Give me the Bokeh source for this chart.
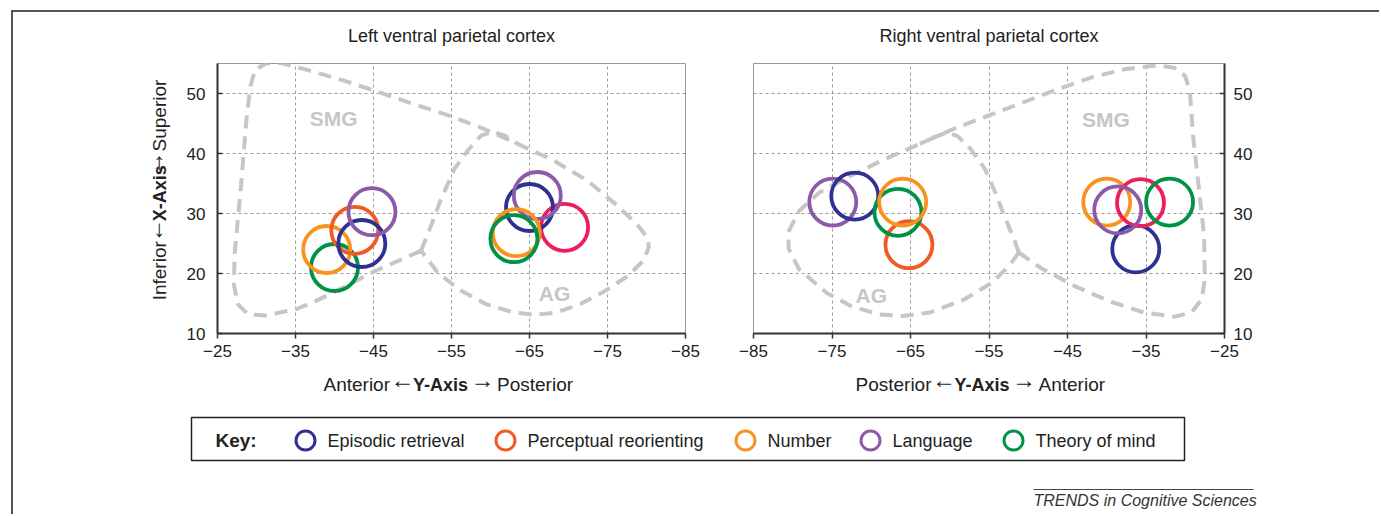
from math import pi
from bokeh.plotting import figure
from bokeh.layouts import column, row
from bokeh.models import Range1d, FixedTicker, ColumnDataSource
from bokeh.embed import file_html
from bokeh.resources import INLINE
from bokeh.core.properties import value

FONT = "Liberation Sans"

# ---------------- data ----------------
PANEL_TITLES = ["Left ventral parietal cortex", "Right ventral parietal cortex"]
SERIES = ["Episodic retrieval", "Perceptual reorienting", "Number", "Language", "Theory of mind"]
ALT = "Perceptual reorienting (alt)"
SERIES_COLORS = {
    "Episodic retrieval": "#2e3192",
    "Perceptual reorienting": "#f15a24",
    "Number": "#f7931e",
    "Language": "#8b5aa8",
    "Theory of mind": "#009245",
    ALT: "#ec1f5b",
}

LEFT_SERIES = ["Theory of mind", "Number", "Perceptual reorienting", "Episodic retrieval", "Language",
               ALT, "Episodic retrieval", "Language", "Number", "Theory of mind"]
LEFT_X = [-40.0, -39.0, -42.6, -43.5, -44.8, -69.5, -65.0, -66.0, -63.3, -63.0]
LEFT_Y = [21.0, 24.0, 27.2, 25.0, 30.3, 27.7, 31.0, 33.0, 26.8, 25.8]

RIGHT_SERIES = ["Language", "Episodic retrieval", "Perceptual reorienting", "Theory of mind", "Number",
                "Episodic retrieval", "Number", ALT, "Language", "Theory of mind"]
RIGHT_X = [-74.9, -72.1, -65.2, -66.6, -66.0, -36.3, -40.0, -35.7, -38.6, -32.0]
RIGHT_Y = [31.9, 32.9, 24.8, 30.2, 31.9, 24.1, 31.9, 31.8, 30.6, 31.9]

X_TICKS = [-25, -35, -45, -55, -65, -75, -85]
Y_TICKS = [10, 20, 30, 40, 50]
Y_MIN, Y_MAX = 10, 55

# region outlines (dashed)
LEFT_OUTER_X = [-51.1, -47.8, -45.3, -41.5, -37.9, -35.2, -31.2, -28.9, -27.6, -27.1, -27.2, -28.0, -28.7,
                -29.2, -29.8, -31.2, -33.0, -36.6, -41.1, -45.5, -50.0, -54.5, -59.0, -63.5, -68.0, -72.4,
                -76.0, -78.7, -80.1, -80.3, -79.6, -77.4, -74.7, -71.5, -68.4, -65.7, -63.0, -59.4, -55.9,
                -53.2, -51.1]
LEFT_OUTER_Y = [23.8, 21.9, 20.5, 17.9, 15.6, 14.1, 13.0, 13.2, 14.9, 18.2, 23.3, 34.4, 45.5,
                51.1, 53.9, 55.0, 55.1, 53.9, 52.2, 50.3, 48.3, 46.4, 44.2, 41.6, 38.9, 35.5,
                31.6, 28.3, 26.0, 24.4, 22.1, 19.4, 17.1, 14.9, 13.5, 13.1, 13.5, 14.9, 17.4,
                20.2, 23.8]
LEFT_DIV_X = [-51.1, -52.3, -53.6, -55.4, -57.2, -58.8, -60.3, -61.8, -63.5]
LEFT_DIV_Y = [23.8, 27.7, 32.2, 37.5, 40.7, 43.0, 43.6, 43.0, 41.6]

RIGHT_OUTER_X = [-51.2, -48.5, -44.1, -39.7, -35.3, -31.4, -29.2, -27.9, -27.5, -27.6, -28.3, -29.0, -29.4,
                 -30.0, -31.4, -33.6, -37.5, -41.9, -46.3, -50.7, -55.1, -59.5, -63.8, -68.2, -72.6, -76.6,
                 -79.2, -80.6, -80.5, -79.2, -75.7, -72.6, -69.1, -66.0, -62.5, -58.1, -54.6, -52.4, -51.2]
RIGHT_OUTER_Y = [23.5, 21.0, 17.9, 15.4, 13.5, 12.8, 13.5, 15.7, 19.1, 26.3, 34.6, 42.9, 50.2,
                 52.9, 54.3, 54.7, 54.1, 52.7, 50.7, 48.5, 46.3, 44.1, 41.6, 39.1, 36.3, 33.5,
                 30.4, 26.8, 24.1, 20.7, 16.8, 14.6, 13.2, 12.9, 13.5, 15.7, 18.5, 21.3, 23.5]
RIGHT_DIV_X = [-51.2, -51.8, -52.9, -54.2, -55.5, -57.3, -59.0, -60.3, -62.1, -63.8]
RIGHT_DIV_Y = [23.5, 25.7, 29.1, 33.5, 37.4, 40.7, 42.9, 43.5, 42.7, 41.6]

REGION_NAMES = ["SMG", "AG"]
LEFT_REGION_X = [-39.9, -68.2]
LEFT_REGION_Y = [45.8, 16.6]
RIGHT_REGION_X = [-40.1, -70.0]
RIGHT_REGION_Y = [45.7, 16.3]

# ---------------- layout geometry (page px) ----------------
ORIGIN_X, ORIGIN_Y = 13, 12
TITLE_BOTTOM = 52
L_FRAME = dict(left=217, right=685, top=63, bottom=333)
R_FRAME = dict(left=753, right=1224, top=63, bottom=333)
YLAB_RIGHT = 180
ROW_BOTTOM = 365
L_FIG_RIGHT = 719
PAGE_RIGHT = 1379
PAGE_BOTTOM = 514

OUTLINE_COLOR = "#c6c6c6"
TEXT_COLOR = "#222222"
ARROW_LIFT = 5  # the large arrow glyphs sit low; lift them to the text's centre line


def strip_figure(width, height):
    f = figure(width=width, height=height, x_range=Range1d(0, width), y_range=Range1d(height, 0),
               toolbar_location=None, output_backend="svg", min_border=0)
    f.axis.visible = False
    f.grid.visible = False
    f.outline_line_color = None
    f.background_fill_color = "white"
    f.border_fill_color = "white"
    return f


def make_panel(fig_left, fig_right, frame, xs, xe, yloc, series, xv, yv,
               outer_x, outer_y, div_x, div_y, reg_x, reg_y):
    p = figure(width=fig_right - fig_left, height=ROW_BOTTOM - TITLE_BOTTOM,
               x_range=Range1d(xs, xe), y_range=Range1d(Y_MIN, Y_MAX),
               toolbar_location=None, output_backend="svg", y_axis_location=yloc,
               min_border_left=frame["left"] - fig_left, min_border_right=fig_right - frame["right"],
               min_border_top=frame["top"] - TITLE_BOTTOM, min_border_bottom=ROW_BOTTOM - frame["bottom"])
    p.outline_line_color = "#999999"
    p.outline_line_width = 1
    p.background_fill_color = "white"
    p.border_fill_color = "white"

    p.xaxis.ticker = FixedTicker(ticks=X_TICKS)
    p.yaxis.ticker = FixedTicker(ticks=Y_TICKS)
    for ax in (p.xaxis, p.yaxis):
        ax.axis_line_color = "#333333"
        ax.axis_line_width = 2
        ax.major_tick_line_color = "#333333"
        ax.major_tick_line_width = 1.5
        ax.minor_tick_line_color = None
        ax.major_label_text_font = FONT
        ax.major_label_text_font_size = "17px"
        ax.major_label_text_color = TEXT_COLOR
    p.xaxis.major_tick_in = 0
    p.xaxis.major_tick_out = 5
    p.xaxis.major_label_standoff = 6
    p.yaxis.major_tick_in = 5
    p.yaxis.major_tick_out = 0
    p.yaxis.major_label_standoff = 12 if yloc == "left" else 9

    p.xgrid.ticker = FixedTicker(ticks=X_TICKS)
    p.ygrid.ticker = FixedTicker(ticks=Y_TICKS)
    for g in (p.xgrid, p.ygrid):
        g.grid_line_color = "#9a9a9a"
        g.grid_line_dash = "3 3"
        g.grid_line_width = 1

    p.line(outer_x, outer_y, line_color=OUTLINE_COLOR, line_width=4, line_dash="13 8")
    p.line(div_x, div_y, line_color=OUTLINE_COLOR, line_width=4, line_dash="13 8")
    p.text(reg_x, reg_y, text=REGION_NAMES, text_font=value(FONT), text_font_size="21px",
           text_font_style="bold", text_color=OUTLINE_COLOR, text_align="center",
           text_baseline="middle")

    src = ColumnDataSource(dict(x=xv, y=yv, series=series,
                                color=[SERIES_COLORS[s] for s in series]))
    p.scatter("x", "y", source=src, size=47, fill_color=None, line_color="color",
              line_width=3.8)
    return p


left = make_panel(YLAB_RIGHT, L_FIG_RIGHT, L_FRAME, -25, -85, "left",
                  LEFT_SERIES, LEFT_X, LEFT_Y, LEFT_OUTER_X, LEFT_OUTER_Y, LEFT_DIV_X, LEFT_DIV_Y,
                  LEFT_REGION_X, LEFT_REGION_Y)
right = make_panel(L_FIG_RIGHT, PAGE_RIGHT, R_FRAME, -85, -25, "right",
                   RIGHT_SERIES, RIGHT_X, RIGHT_Y, RIGHT_OUTER_X, RIGHT_OUTER_Y, RIGHT_DIV_X, RIGHT_DIV_Y,
                   RIGHT_REGION_X, RIGHT_REGION_Y)


def mixed_text(f, x, y, parts, angle=0.0):
    """parts: (text, align, offset along reading direction, kind)."""
    for text, align, off, kind in parts:
        lift = ARROW_LIFT if kind == "arrow" else 0
        if angle:
            xx, yy = x - lift, y - off
        else:
            xx, yy = x + off, y - lift
        if kind == "arrow":
            size, style = "24px", "normal"
        elif kind == "bold":
            size, style = "18px", "bold"
        else:
            size, style = "19px", "normal"
        f.text([xx], [yy], text=[text], angle=angle, text_align=align, text_baseline="middle",
               text_font=value(FONT), text_font_size=size, text_font_style=style,
               text_color=TEXT_COLOR)


def axis_title_parts(a, b):
    return [
        (a, "right", 0, "plain"),
        ("\u2190", "center", 12.5, "arrow"),
        ("Y-Axis", "left", 23, "bold"),
        ("\u2192", "center", 92.5, "arrow"),
        (b, "left", 107, "plain"),
    ]


W_ALL = PAGE_RIGHT - ORIGIN_X

# ---- panel titles strip ----
tstrip = strip_figure(W_ALL, TITLE_BOTTOM - ORIGIN_Y)
tstrip.text([(L_FRAME["left"] + L_FRAME["right"]) / 2 - ORIGIN_X,
             (R_FRAME["left"] + R_FRAME["right"]) / 2 - ORIGIN_X],
            [35 - ORIGIN_Y] * 2, text=PANEL_TITLES, text_font=value(FONT), text_font_size="18px",
            text_color=TEXT_COLOR, text_align="center", text_baseline="middle")

# ---- y-axis title strip (left of the left panel) ----
ylab = strip_figure(YLAB_RIGHT - ORIGIN_X, ROW_BOTTOM - TITLE_BOTTOM)
mixed_text(ylab, 159 - ORIGIN_X, 317 - TITLE_BOTTOM,
           [("Inferior", "right", 59, "plain"),
            ("\u2190", "center", 71.5, "arrow"),
            ("X-Axis", "left", 82, "bold"),
            ("\u2192", "center", 149.5, "arrow"),
            ("Superior", "left", 163, "plain")], angle=pi / 2)

# ---------------- x titles + key + footer ----------------
BH = PAGE_BOTTOM - ROW_BOTTOM
bf = strip_figure(W_ALL, BH)

XT_Y = 384 - ROW_BOTTOM
mixed_text(bf, 389.5 - ORIGIN_X, XT_Y, axis_title_parts("Anterior", "Posterior"))
mixed_text(bf, 931 - ORIGIN_X, XT_Y, axis_title_parts("Posterior", "Anterior"))

KEY_BOX = (191 - ORIGIN_X, 1184 - ORIGIN_X, 417 - ROW_BOTTOM, 460 - ROW_BOTTOM)
KEY_MID = 440 - ROW_BOTTOM
KEY_CIRCLE_X = [c - ORIGIN_X for c in (305, 505, 745, 870, 1013)]

bf.quad(left=KEY_BOX[0], right=KEY_BOX[1], top=KEY_BOX[2], bottom=KEY_BOX[3],
        fill_color=None, line_color=TEXT_COLOR, line_width=1.5)
bf.text([215 - ORIGIN_X], [KEY_MID], text=["Key:"], text_font=value(FONT), text_font_size="19px",
        text_font_style="bold", text_color=TEXT_COLOR, text_baseline="middle")
bf.scatter(KEY_CIRCLE_X, [KEY_MID] * len(SERIES), size=19, fill_color=None,
           line_color=[SERIES_COLORS[s] for s in SERIES], line_width=3)
bf.text([c + 22 for c in KEY_CIRCLE_X], [KEY_MID] * len(SERIES), text=SERIES, text_font=value(FONT),
        text_font_size="18px", text_color=TEXT_COLOR, text_baseline="middle")

bf.segment(x0=[1033 - ORIGIN_X], y0=[489 - ROW_BOTTOM], x1=[1253 - ORIGIN_X], y1=[489 - ROW_BOTTOM],
           line_color="#444444", line_width=1)
bf.text([1033 - ORIGIN_X], [500 - ROW_BOTTOM], text=["TRENDS in Cognitive Sciences"],
        text_font=value(FONT), text_font_size="16px", text_font_style="italic",
        text_color="#333333", text_baseline="middle")

root = column(tstrip, row(ylab, left, right), bf,
              styles={"border-left": "2px solid #555555", "border-top": "2px solid #555555"},
              margin=(10, 0, 0, 11))

open("out.html", "w").write(file_html(root, INLINE))
